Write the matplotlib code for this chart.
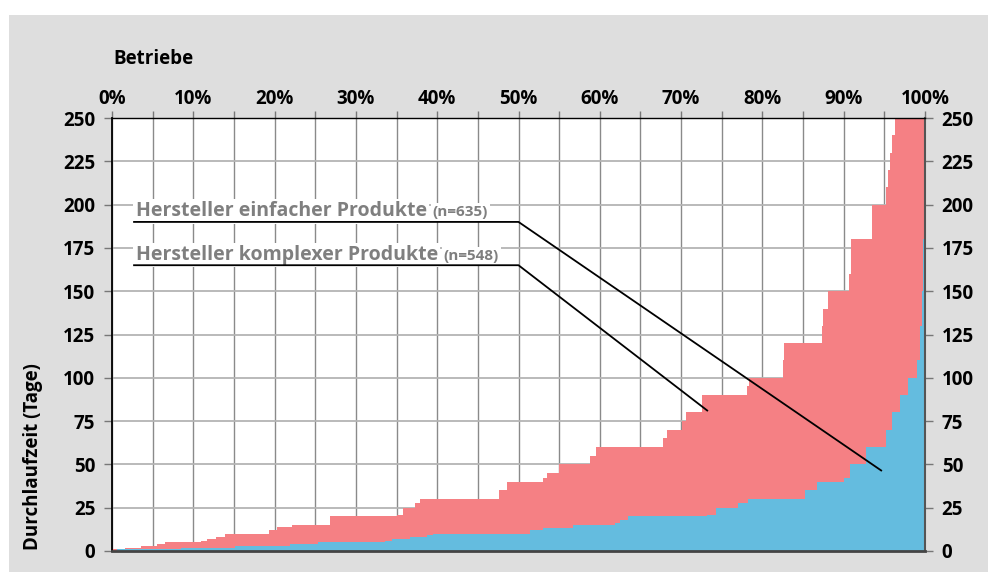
import matplotlib
matplotlib.use("Agg")
import matplotlib.pyplot as plt
from matplotlib.patches import Rectangle

plt.rcParams['font.family'] = ['Open Sans', 'DejaVu Sans']

# Anteil Betriebe (%) an dem eine Stufe beginnt, und Durchlaufzeit (Tage)
komplex_x = [0, 1.6, 3.6, 5.5, 6.5, 10.9, 11.7, 12.8, 13.9, 19.3, 20.3, 22.1, 26.8,
             35.1, 35.8, 37.3, 37.9, 47.6, 48.6, 53.0, 53.5, 55.0, 58.8, 59.5,
             67.8, 68.3, 70.1, 70.6, 72.6, 78.1, 78.4, 82.5, 82.7, 87.3, 87.5,
             88.1, 90.7, 90.9, 93.5, 95.2, 95.4, 95.7, 95.9, 96.3, 100]
komplex_y = [1, 2, 3, 4, 5, 6, 7, 8, 10, 12, 14, 15, 20,
             21, 25, 28, 30, 35, 40, 42, 45, 50, 55, 60,
             65, 70, 75, 80, 90, 95, 100, 110, 120, 130, 140,
             150, 160, 180, 200, 210, 220, 230, 240, 365, 365]

einfach_x = [0, 0.6, 8.5, 15.1, 21.9, 25.3, 33.6, 34.4, 36.7, 38.7, 39.5, 51.4,
             53.0, 56.7, 61.9, 62.5, 63.5, 73.2, 74.3, 77.0, 78.2, 85.2, 86.7,
             90.0, 90.8, 92.7, 95.2, 95.9, 96.9, 97.9, 99.0, 99.4, 99.6, 99.75, 100]
einfach_y = [0, 1, 2, 3, 4, 5, 6, 7, 8, 9, 10, 12,
             13, 15, 16, 18, 20, 21, 25, 28, 30, 35, 40,
             42, 50, 60, 70, 80, 90, 100, 110, 130, 150, 180, 180]

x_ticks = list(range(0, 101, 10))
y_ticks = list(range(0, 251, 25))

labels = ['Hersteller einfacher Produkte', 'Hersteller komplexer Produkte']
n_labels = ['(n=635)', '(n=548)']
label_y = [190, 165]             # Hoehe der Unterstreichung (Tage)
pointer = [(94.7, 46.2), (73.3, 80.8)]

red = '#F58084'
blue = '#64BCDF'

fig = plt.figure(figsize=(9.88, 5.72), dpi=100, facecolor='white')
fig.patches.append(Rectangle((9 / 988, 0), 1, 1 - 15 / 572, transform=fig.transFigure,
                             facecolor='#dedede', edgecolor='none', zorder=-10))

ax = fig.add_axes([112 / 988, 1 - 551 / 572, 813 / 988, 433 / 572])
ax.set_facecolor('white')

ax.fill_between(komplex_x, komplex_y, step='post', color=red, lw=0, zorder=2)
ax.fill_between(einfach_x, einfach_y, step='post', color=blue, lw=0, zorder=3)

ax.set_xlim(0, 100)
ax.set_ylim(0, 250)

ax.set_xticks(x_ticks)
ax.set_xticklabels([f'{v}%' for v in x_ticks])
ax.set_xticks([v + 5 for v in x_ticks[:-1]], minor=True)
ax.set_yticks(y_ticks)

ax.xaxis.tick_top()
ax.tick_params(axis='x', which='both', top=True, bottom=False, length=5,
               color='#777777', width=1, pad=1.5)
ax.tick_params(axis='x', labelsize=13.5)
ax.tick_params(axis='y', left=True, right=True, labelleft=True, labelright=True,
               length=6, color='#777777', width=1, labelsize=13.5, pad=6)
for lab in ax.get_xticklabels() + ax.get_yticklabels():
    lab.set_fontweight('bold')

ax.xaxis.grid(True, which='both', color='#8a8a8a', lw=1)
ax.yaxis.grid(True, color='#b4b4b4', lw=1.3)
ax.set_axisbelow(True)

ax.spines['left'].set_color('black')
ax.spines['left'].set_linewidth(1.3)
ax.spines['top'].set_color('black')
ax.spines['top'].set_linewidth(1)
ax.spines['right'].set_color('#555555')
ax.spines['right'].set_linewidth(1.5)
ax.spines['bottom'].set_color('#444444')
ax.spines['bottom'].set_linewidth(2)
for s in ax.spines.values():
    s.set_zorder(5)

fig.canvas.draw()
renderer = fig.canvas.get_renderer()
for lab, n, yl, (px, py) in zip(labels, n_labels, label_y, pointer):
    ax.plot([2.6, 50, px], [yl, yl, py], color='black', lw=1.3, zorder=8,
            solid_capstyle='butt')
    t = ax.text(2.9, yl + 3.2, lab, color='#7f7f7f', fontsize=14, fontweight='bold',
                va='baseline', ha='left', zorder=7,
                bbox=dict(facecolor='white', edgecolor='none', pad=1.5))
    ext = t.get_window_extent(renderer)
    x_end = ax.transData.inverted().transform((ext.x1 + 6, 0))[0]
    ax.text(x_end, yl + 3.2, n, color='#7f7f7f', fontsize=11, fontweight='bold',
            va='baseline', ha='left', zorder=7,
            bbox=dict(facecolor='white', edgecolor='none', pad=1.5))

fig.text(113 / 988, 1 - 64 / 572, 'Betriebe', fontsize=13.5, fontweight='bold',
         va='baseline', ha='left')
fig.text(33 / 988, 1 - 550 / 572, 'Durchlaufzeit (Tage)', fontsize=13.5,
         fontweight='bold', rotation=90, va='bottom', ha='center')

fig.savefig('out.png', dpi=100, facecolor=fig.get_facecolor())
